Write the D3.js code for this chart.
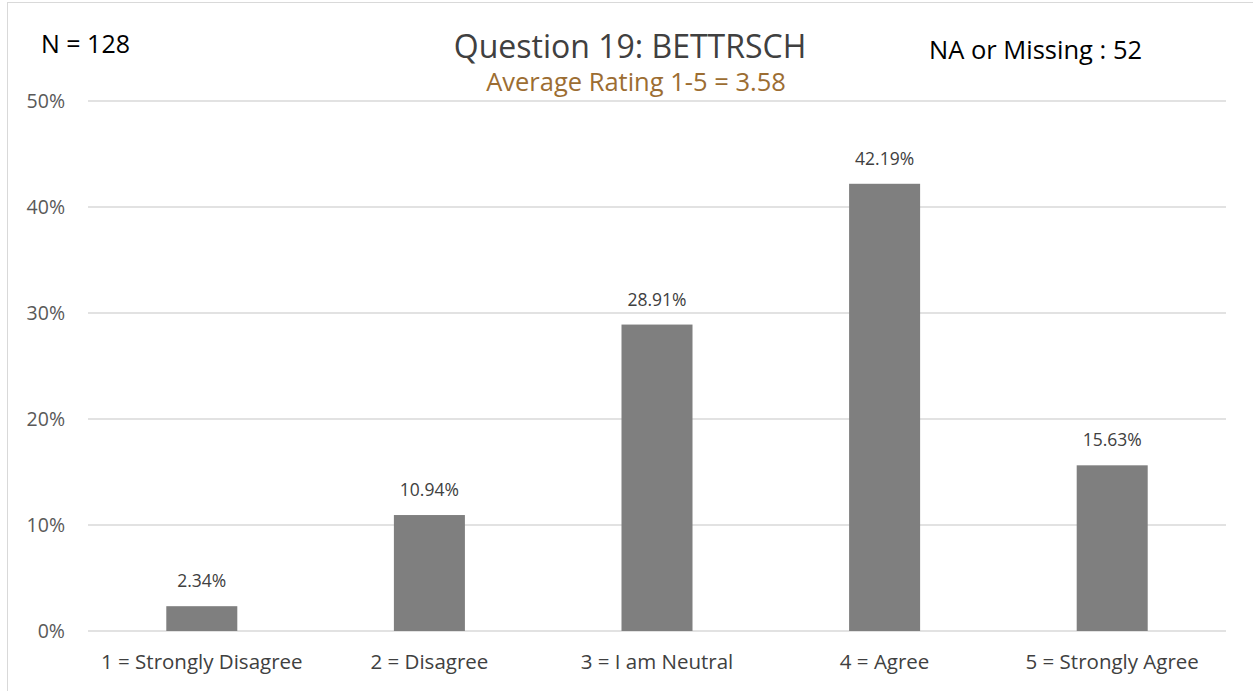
<!DOCTYPE html>
<html>
<head>
<meta charset="utf-8">
<script src="https://cdn.jsdelivr.net/npm/d3@7"></script>
<style>
  body { margin: 0; background: #fff; }
  svg { display: block; font-family: "Open Sans", "Noto Sans", sans-serif; }
</style>
</head>
<body>
<svg id="chart" width="1253" height="691"></svg>
<script>
var categories = ["1 = Strongly Disagree", "2 = Disagree", "3 = I am Neutral", "4 = Agree", "5 = Strongly Agree"];
var percents = [2.34, 10.94, 28.91, 42.19, 15.63];
var yTicks = [0, 10, 20, 30, 40, 50];

var svg = d3.select("#chart");

// chart border (runs off the right and bottom edges)
svg.append("rect")
    .attr("x", 7.5).attr("y", 2.5)
    .attr("width", 1260).attr("height", 700)
    .attr("fill", "none")
    .attr("stroke", "#d9d9d9");

var plotLeft = 88, plotRight = 1226, plotTop = 101, plotBottom = 631;

var x = d3.scaleBand()
    .domain(categories)
    .range([plotLeft, plotRight]);

var y = d3.scaleLinear()
    .domain([0, 50])
    .range([plotBottom, plotTop]);

// gridlines
svg.selectAll(".grid")
    .data(yTicks)
    .enter()
    .append("line")
    .attr("x1", plotLeft).attr("x2", plotRight)
    .attr("y1", function(d) { return y(d); })
    .attr("y2", function(d) { return y(d); })
    .attr("stroke", "#d9d9d9")
    .attr("stroke-width", 1.5);

// y tick labels
svg.selectAll(".ytick")
    .data(yTicks)
    .enter()
    .append("text")
    .attr("x", 65)
    .attr("y", function(d) { return y(d) + 7; })
    .attr("text-anchor", "end")
    .attr("font-size", "19.5px")
    .attr("fill", "#595959")
    .text(function(d) { return d + "%"; });

var barW = x.bandwidth() * 0.312;

svg.selectAll(".bar")
    .data(percents)
    .enter()
    .append("rect")
    .attr("x", function(d, i) { return x(categories[i]) + x.bandwidth() / 2 - barW / 2; })
    .attr("y", function(d) { return y(d); })
    .attr("width", barW)
    .attr("height", function(d) { return plotBottom - y(d); })
    .attr("fill", "#7f7f7f");

// value labels
svg.selectAll(".val")
    .data(percents)
    .enter()
    .append("text")
    .attr("x", function(d, i) { return x(categories[i]) + x.bandwidth() / 2; })
    .attr("y", function(d) { return y(d) - 19; })
    .attr("text-anchor", "middle")
    .attr("font-size", "17.5px")
    .attr("fill", "#404040")
    .text(function(d) { return d.toFixed(2) + "%"; });

// category labels
svg.selectAll(".cat")
    .data(categories)
    .enter()
    .append("text")
    .attr("x", function(d) { return x(d) + x.bandwidth() / 2; })
    .attr("y", 669)
    .attr("text-anchor", "middle")
    .attr("font-size", "20.5px")
    .attr("fill", "#404040")
    .text(function(d) { return d; });

// titles
svg.append("text")
    .attr("x", 630).attr("y", 58)
    .attr("text-anchor", "middle")
    .attr("font-size", "32px")
    .attr("fill", "#404040")
    .text("Question 19: BETTRSCH");

svg.append("text")
    .attr("x", 636).attr("y", 91)
    .attr("text-anchor", "middle")
    .attr("font-size", "25.5px")
    .attr("fill", "#9c6d32")
    .text("Average Rating 1-5 = 3.58");

svg.append("text")
    .attr("x", 41).attr("y", 53)
    .attr("font-size", "25px")
    .attr("fill", "#000")
    .text("N = 128");

svg.append("text")
    .attr("x", 929).attr("y", 59)
    .attr("font-size", "25.5px")
    .attr("fill", "#000")
    .text("NA or Missing : 52");
</script>
</body>
</html>
